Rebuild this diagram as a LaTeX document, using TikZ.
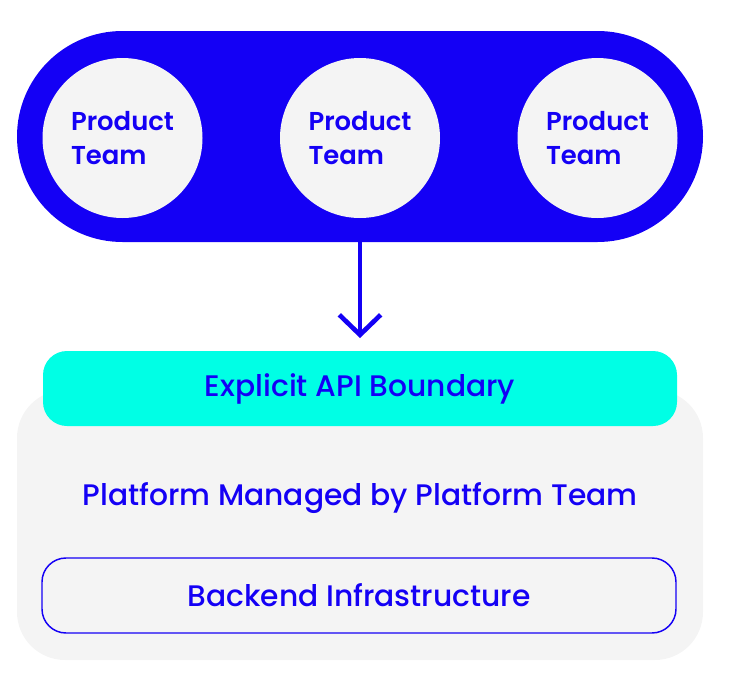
\documentclass[tikz,border=0pt]{standalone}
\usepackage{fontspec}
\setmainfont{Poppins}[UprightFont=*-Medium,BoldFont=*-SemiBold]
\usetikzlibrary{arrows.meta}
\definecolor{teamblue}{RGB}{20,0,245}
\definecolor{boxgray}{RGB}{244,244,244}
\definecolor{apicyan}{RGB}{0,255,229}

\begin{document}
\begin{tikzpicture}
          [x=0.75pt,y=-0.75pt,
           every node/.style={text=teamblue,font=\fontsize{22.3}{26}\selectfont},
           team/.style={shape=circle,fill=boxgray,minimum size=120pt,inner sep=0,align=left,font=\bfseries\fontsize{19.4}{25.5}\selectfont},
           bar/.style={shape=rectangle,minimum width=475.5pt,minimum height=56.25pt,rounded corners=18pt,inner sep=0}]

          \useasboundingbox (0,0) rectangle (744,686);

          % product teams
          \node[shape=rectangle,fill=teamblue,minimum width=514.5pt,minimum height=158.25pt,rounded corners=79.1pt] (teams) at (360,136.5) {};
          \node[team] (t1) at (122.5,138) {Product\\Team};
          \node[team] (t2) at (360,138) {Product\\Team};
          \node[team] (t3) at (597.5,138) {Product\\Team};

          % platform
          \node[shape=rectangle,fill=boxgray,minimum width=514.5pt,minimum height=202.5pt,rounded corners=36pt] (platform) at (360,525) {};
          \node[bar,fill=apicyan] (api) at (360,388.5) {Explicit API Boundary};
          \node (managed) at (360,498) {Platform Managed by Platform Team};
          \node[bar,draw=teamblue,line width=1.1pt] (backend) at (359,595.5) {Backend Infrastructure};

          \draw[teamblue,line width=3.5pt,shorten >=9.5pt,-{Straight Barb[length=15pt,width=31pt]}] (teams.south) -- (api.north);

        \end{tikzpicture}
\end{document}
